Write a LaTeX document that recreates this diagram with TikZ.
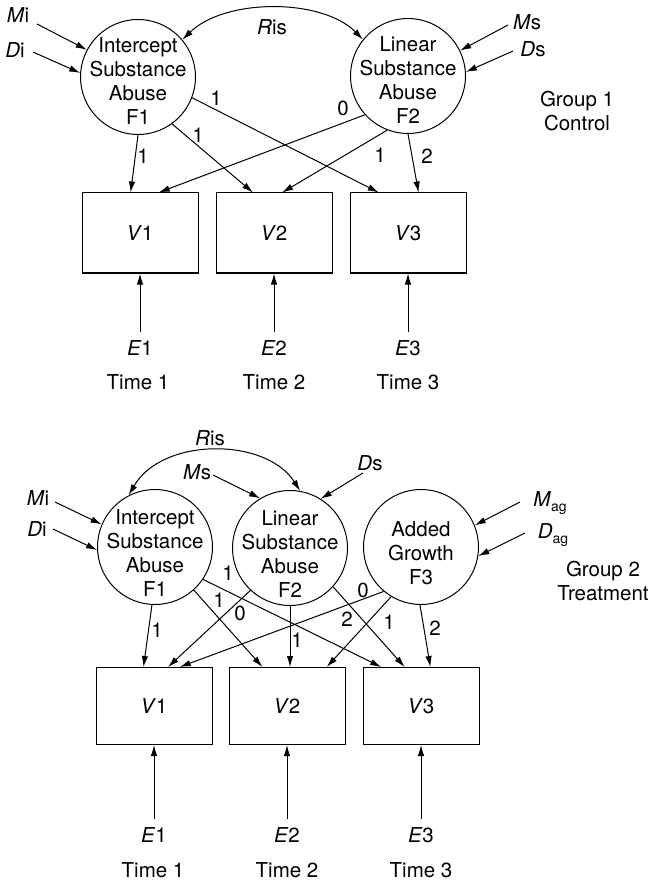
\documentclass[tikz,border=0pt]{standalone}
\usepackage{fontspec}
\setmainfont{TeX Gyre Heros}
\usetikzlibrary{arrows.meta,calc}
\begin{document}
\begin{tikzpicture}[x=1pt,y=-1pt,
  every node/.style={font=\fontsize{20.5}{24}\selectfont},
  latent/.style={draw,circle,minimum size=115pt,inner sep=0pt,line width=1pt},
  ltext/.style={align=center,inner sep=0pt},
  manifest/.style={draw,rectangle,minimum width=116pt,minimum height=80pt,inner sep=0pt,line width=1pt},
  errnode/.style={inner sep=8pt},
  coef/.style={inner sep=1pt},
  arr/.style={-{Latex[length=11pt,width=6.5pt]},line width=1pt},
  darr/.style={{Latex[length=11pt,width=6.5pt]}-{Latex[length=11pt,width=6.5pt]},line width=1pt},
]
\useasboundingbox (0,0) rectangle (653,882);
\newcommand{\lowsub}[1]{\raisebox{-4.5pt}{\fontsize{14}{14}\selectfont #1}}

% ---------------- Group 1: control ----------------
\node[latent] (aF1) at (138,77) {};
\node[ltext] (aF1t) at (138,81) {Intercept\\Substance\\Abuse\\F1};
\node[latent] (aF2) at (408,76) {};
\node[ltext] (aF2t) at (408,80) {Linear\\Substance\\Abuse\\F2};

\node[manifest] (aV1) at (140,233) {\textit{V}1};
\node[manifest] (aV2) at (274,233) {\textit{V}2};
\node[manifest] (aV3) at (408,233) {\textit{V}3};

\node[errnode] (aE1) at (140,348) {\textit{E}1};
\node[errnode] (aE2) at (274,348) {\textit{E}2};
\node[errnode] (aE3) at (408,348) {\textit{E}3};
\node (aT1) at (138,382) {Time 1};
\node (aT2) at (274,382) {Time 2};
\node (aT3) at (408,382) {Time 3};

\node (aMi) at (18,15) {\textit{M}i};
\node (aDi) at (15,50) {\textit{D}i};
\node (aMs) at (527,22) {\textit{M}s};
\node (aDs) at (533,49) {\textit{D}s};
\node (aRis) at (272,27) {\textit{R}is};
\node[align=center] (aGrp) at (577,111) {Group 1\\Control};

\coordinate (aMiS) at (37,24);
\coordinate (aDiS) at (33,52);
\coordinate (aMsS) at (508,25);
\coordinate (aDsS) at (513,51);
\draw[arr] (aMiS) -- (aF1.152);
\draw[arr] (aDiS) -- (aF1.176);
\draw[arr] (aMsS) -- (aF2.26);
\draw[arr] (aDsS) -- (aF2.4);
\draw[darr] (aF1.40) .. controls (225,-2) and (322,-2) .. (aF2.141);

\draw[arr] (aF1.-90)  -- ($(aV1.north west)!0.42!(aV1.north east)$);
\draw[arr] (aF1.-54)  -- ($(aV2.north west)!0.32!(aV2.north east)$);
\draw[arr] (aF1.-21)  -- ($(aV3.north west)!0.25!(aV3.north east)$);
\draw[arr] (aF2.-138) -- ($(aV1.north west)!0.66!(aV1.north east)$);
\draw[arr] (aF2.-111) -- ($(aV2.north west)!0.57!(aV2.north east)$);
\draw[arr] (aF2.-90)  -- ($(aV3.north west)!0.59!(aV3.north east)$);

\node[coef] (ac1) at (143,156) {1};
\node[coef] (ac2) at (198,135) {1};
\node[coef] (ac3) at (216,98) {1};
\node[coef] (ac4) at (343,108) {0};
\node[coef] (ac5) at (380,155) {1};
\node[coef] (ac6) at (427,156) {2};

\draw[arr] (aE1.north) -- (aE1.north |- aV1.south);
\draw[arr] (aE2.north) -- (aE2.north |- aV2.south);
\draw[arr] (aE3.north) -- (aE3.north |- aV3.south);

% ---------------- Group 2: treatment ----------------
\node[latent] (bF1) at (155,547) {};
\node[ltext] (bF1t) at (155,553) {Intercept\\Substance\\Abuse\\F1};
\node[latent] (bF2) at (290,548) {};
\node[ltext] (bF2t) at (290,554) {Linear\\Substance\\Abuse\\F2};
\node[latent] (bF3) at (421,547) {};
\node[ltext] (bF3t) at (421,553) {Added\\Growth\\F3};

\node[manifest,minimum height=77pt] (bV1) at (154,706) {\textit{V}1};
\node[manifest,minimum height=77pt] (bV2) at (287,706) {\textit{V}2};
\node[manifest,minimum height=77pt] (bV3) at (421,706) {\textit{V}3};

\node[errnode] (bE1) at (154,835) {\textit{E}1};
\node[errnode] (bE2) at (287,835) {\textit{E}2};
\node[errnode] (bE3) at (421,835) {\textit{E}3};
\node (bT1) at (153,870) {Time 1};
\node (bT2) at (287,870) {Time 2};
\node (bT3) at (421,870) {Time 3};

\node (bRis) at (210,438) {\textit{R}is};
\node (bMs) at (197,472) {\textit{M}s};
\node (bDs) at (370,463) {\textit{D}s};
\node (bMi) at (38,498) {\textit{M}i};
\node (bDi) at (37,529) {\textit{D}i};
\node (bMag) at (550,503) {\textit{M}\lowsub{ag}};
\node (bDag) at (553,535) {\textit{D}\lowsub{ag}};
\node[align=center] (bGrp) at (603,581) {Group 2\\Treatment};

\coordinate (bMsS) at (213,475);
\coordinate (bDsS) at (363,473);
\coordinate (bMiS) at (55,502);
\coordinate (bDiS) at (53,529);
\coordinate (bMagS) at (520,502);
\coordinate (bDagS) at (525,533);
\draw[arr] (bMsS) -- (bF2.121);
\draw[arr] (bDsS) -- (bF2.58);
\draw[arr] (bMiS) -- (bF1.157);
\draw[arr] (bDiS) -- (bF1.183);
\draw[arr] (bMagS) -- (bF3.22);
\draw[arr] (bDagS) -- (bF3.-9);
\draw[darr] (bF1.117) .. controls (162,437) and (266,437) .. (bF2.80);

\draw[arr] (bF1.-93)  -- ($(bV1.north west)!0.41!(bV1.north east)$);
\draw[arr] (bF1.-48)  -- ($(bV2.north west)!0.29!(bV2.north east)$);
\draw[arr] (bF1.-34)  -- ($(bV3.north west)!0.16!(bV3.north east)$);
\draw[arr] (bF2.-133) -- ($(bV1.north west)!0.62!(bV1.north east)$);
\draw[arr] (bF2.-90)  -- (bF2.-90 |- bV2.north);
\draw[arr] (bF2.-42)  -- ($(bV3.north west)!0.36!(bV3.north east)$);
\draw[arr] (bF3.-130) -- ($(bV1.north west)!0.72!(bV1.north east)$);
\draw[arr] (bF3.-121) -- ($(bV2.north west)!0.84!(bV2.north east)$);
\draw[arr] (bF3.-91)  -- ($(bV3.north west)!0.58!(bV3.north east)$);

\node[coef] (bc1) at (157,630) {1};
\node[coef] (bc2) at (219,600) {1};
\node[coef] (bc3) at (228,573) {1};
\node[coef] (bc4) at (240,613) {0};
\node[coef] (bc5) at (297,640) {1};
\node[coef] (bc6) at (347,619) {2};
\node[coef] (bc7) at (363,590) {0};
\node[coef] (bc8) at (389,622) {1};
\node[coef] (bc9) at (435,628) {2};

\draw[arr] (bE1.north) -- (bE1.north |- bV1.south);
\draw[arr] (bE2.north) -- (bE2.north |- bV2.south);
\draw[arr] (bE3.north) -- (bE3.north |- bV3.south);
\end{tikzpicture}
\end{document}
